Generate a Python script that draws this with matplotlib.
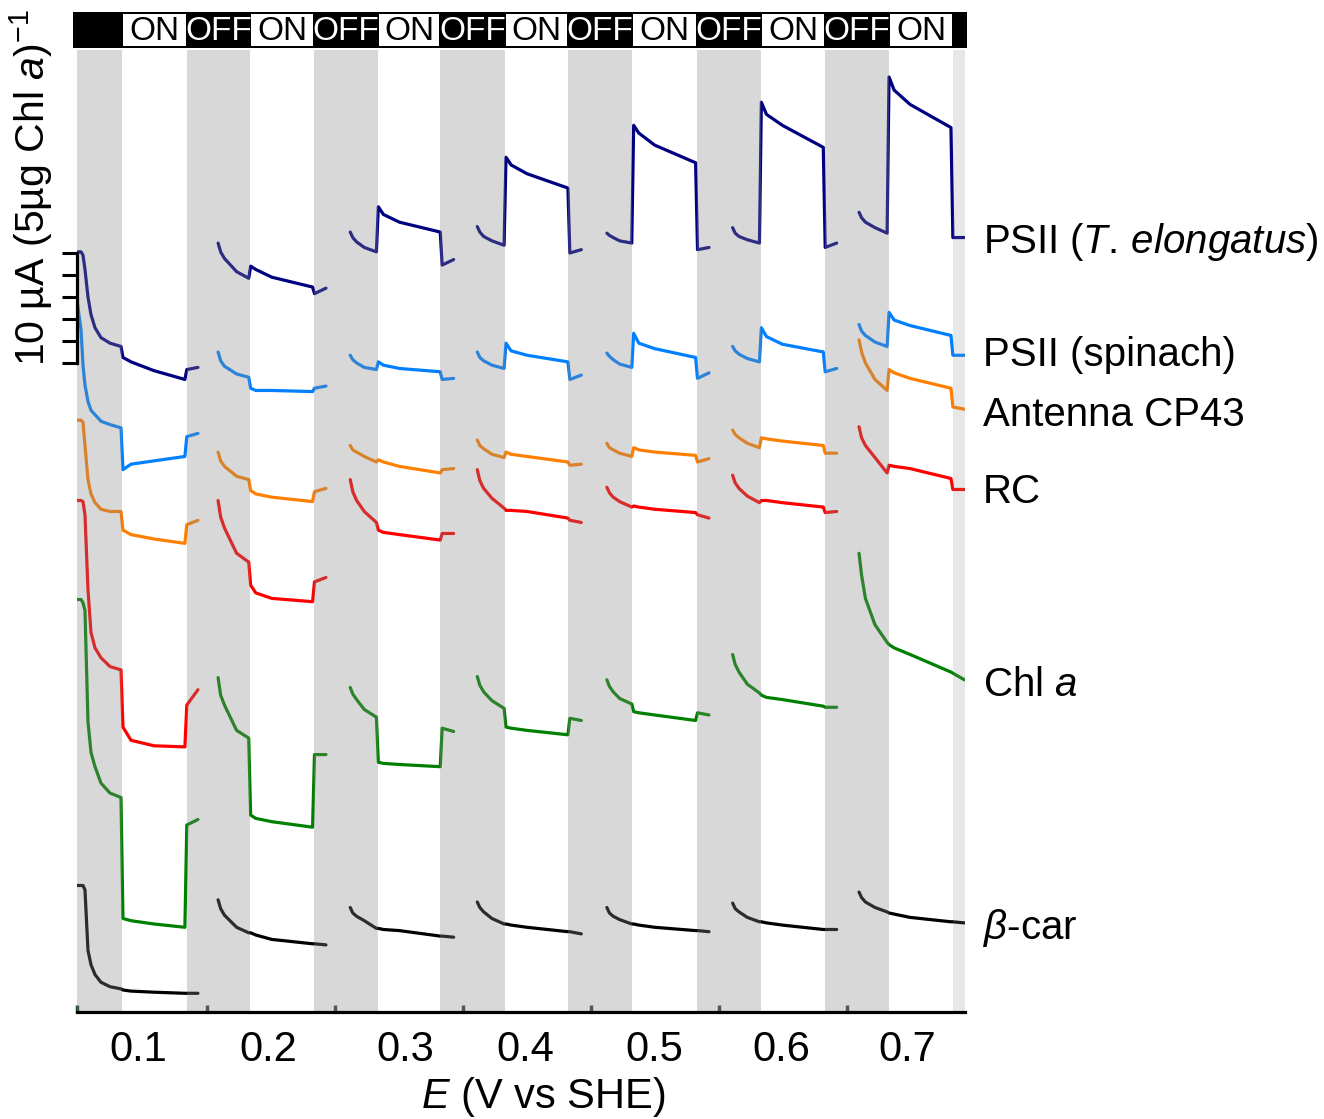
import matplotlib
matplotlib.use('Agg')
import matplotlib.pyplot as plt

plt.rcParams['font.family'] = ['Liberation Sans', 'DejaVu Sans']
plt.rcParams['mathtext.fontset'] = 'custom'
plt.rcParams['mathtext.rm'] = 'Liberation Sans'
plt.rcParams['mathtext.it'] = 'Liberation Sans:italic'
plt.rcParams['mathtext.bf'] = 'Liberation Sans:bold'

# potentials (tick labels) and where they sit on the time axis
potentials = ['0.1', '0.2', '0.3', '0.4', '0.5', '0.6', '0.7']
label_pos = [0.96, 3.0, 5.14, 7.02, 9.05, 11.04, 13.0]
seg_ticks = [0, 2.04, 4.04, 6.05, 8.05, 10.06, 12.06]

# light switched on / off (time, in units of one half period)
light_on = [0.70, 2.71, 4.71, 6.70, 8.69, 10.71, 12.72]
light_off = [1.72, 3.71, 5.69, 7.69, 9.71, 11.72, 13.72]

# sampling times inside each potential step (relative to step start)
t_first = [0.0, 0.063, 0.094, 0.125, 0.172, 0.219, 0.282, 0.376, 0.517, 0.689,
           0.72, 0.846, 1.206, 1.69, 1.72, 1.895]
t_start = [0.21, 0.28, 0.27, 0.30, 0.27, 0.25]
t_early1 = [0.25, 0.32, 0.31, 0.34, 0.31, 0.29]
t_early2 = [0.31, 0.38, 0.37, 0.40, 0.37, 0.35]
t_rest = [0.5, 0.69, 0.72, 0.8, 1.05, 1.69, 1.72, 1.9]

# currents (uA, stacked offsets as in the figure), one list per potential step
psii_te = [
    [69.1, 69.1, 68.8, 67.5, 65.0, 63.4, 62.2, 61.3, 60.8, 60.5, 59.5, 59.1, 58.3, 57.5, 58.4, 58.6],
    [69.9, 69.1, 68.5, 67.3, 66.7, 67.8, 67.5, 66.8, 65.9, 65.3, 65.8],
    [70.9, 70.4, 70.0, 69.5, 69.1, 73.2, 72.5, 71.8, 70.9, 67.9, 68.4],
    [71.4, 70.9, 70.5, 70.1, 69.7, 77.7, 77.0, 76.2, 74.9, 69.0, 69.3],
    [70.8, 70.6, 70.4, 70.1, 69.9, 80.6, 79.9, 78.8, 77.2, 69.3, 69.5],
    [71.3, 70.8, 70.5, 70.2, 69.9, 82.7, 81.6, 80.6, 78.6, 69.5, 69.9],
    [72.7, 72.2, 71.8, 71.3, 70.8, 85.0, 83.8, 82.5, 80.4, 70.4, 70.4],
]
psii_sp = [
    [64.7, 62.0, 58.8, 57.0, 55.5, 54.7, 54.3, 53.7, 53.4, 53.1, 49.3, 49.8, 50.1, 50.5, 52.3, 52.6],
    [60.0, 59.2, 58.7, 58.0, 57.7, 56.7, 56.5, 56.5, 56.4, 56.7, 56.9],
    [59.7, 59.3, 59.0, 58.6, 58.4, 59.1, 58.8, 58.5, 58.2, 57.5, 57.6],
    [60.0, 59.5, 59.2, 58.8, 58.5, 60.8, 60.1, 59.7, 59.1, 57.5, 57.9],
    [59.9, 59.6, 59.3, 58.9, 58.6, 61.7, 60.8, 60.3, 59.5, 57.6, 58.1],
    [60.5, 60.1, 59.8, 59.4, 59.1, 62.2, 61.4, 60.7, 60.0, 58.2, 58.5],
    [62.5, 61.9, 61.5, 60.9, 60.5, 63.6, 62.9, 62.4, 61.5, 59.7, 59.7],
]
cp43 = [
    [53.8, 53.8, 53.6, 51.5, 48.4, 47.1, 46.3, 45.7, 45.5, 45.5, 43.8, 43.4, 43.0, 42.6, 44.3, 44.7],
    [50.9, 50.1, 49.6, 48.7, 48.4, 47.4, 47.1, 46.8, 46.4, 47.3, 47.6],
    [51.5, 51.1, 50.9, 50.5, 50.0, 50.2, 50.0, 49.6, 49.0, 49.3, 49.4],
    [52.0, 51.5, 51.2, 50.7, 50.4, 50.9, 50.7, 50.5, 50.0, 49.7, 49.8],
    [51.7, 51.3, 51.1, 50.8, 50.5, 51.3, 51.1, 50.9, 50.6, 50.0, 50.3],
    [52.9, 52.5, 52.2, 51.7, 51.3, 52.2, 52.1, 51.9, 51.5, 50.8, 50.8],
    [61.1, 60.0, 59.0, 57.5, 56.5, 58.4, 58.1, 57.6, 56.7, 55.0, 54.8],
]
rc = [
    [46.5, 46.5, 46.4, 45.2, 38.4, 34.5, 33.1, 32.2, 31.4, 31.1, 25.9, 24.7, 24.2, 24.1, 27.9, 29.3],
    [46.5, 45.0, 44.0, 41.7, 40.9, 38.8, 38.1, 37.6, 37.3, 39.1, 39.5],
    [48.4, 47.3, 46.5, 45.5, 44.5, 43.8, 43.6, 43.4, 42.9, 43.5, 43.5],
    [49.3, 48.3, 47.6, 46.7, 45.8, 45.6, 45.6, 45.5, 44.9, 44.7, 44.5],
    [47.7, 47.2, 46.8, 46.4, 45.9, 46.0, 45.9, 45.7, 45.4, 45.2, 44.9],
    [48.8, 48.1, 47.6, 46.9, 46.3, 46.5, 46.5, 46.3, 45.9, 45.4, 45.5],
    [53.2, 52.2, 51.5, 50.4, 49.0, 49.7, 49.6, 49.4, 48.5, 47.5, 47.5],
]
chla = [
    [37.5, 37.5, 37.2, 36.5, 26.4, 23.6, 22.3, 20.8, 19.9, 19.5, 8.5, 8.3, 8.0, 7.7, 17.0, 17.5],
    [30.4, 28.8, 27.9, 25.6, 24.9, 17.9, 17.6, 17.3, 16.8, 23.4, 23.4],
    [29.5, 28.9, 28.4, 27.5, 26.8, 22.7, 22.6, 22.5, 22.3, 25.8, 25.5],
    [30.5, 29.7, 29.1, 28.3, 27.6, 25.9, 25.8, 25.6, 25.2, 26.7, 26.5],
    [30.2, 29.6, 29.1, 28.5, 28.0, 27.3, 27.2, 27.0, 26.5, 27.2, 27.0],
    [32.5, 31.6, 30.9, 29.8, 29.0, 28.8, 28.6, 28.4, 27.8, 27.7, 27.7],
    [41.7, 39.7, 37.6, 35.2, 33.6, 33.4, 33.1, 32.5, 30.9, 30.8, 30.2],
]
bcar = [
    [11.5, 11.5, 11.5, 11.1, 5.6, 4.3, 3.4, 2.7, 2.3, 2.1, 2.0, 1.9, 1.8, 1.7, 1.7, 1.7],
    [10.2, 9.4, 8.8, 7.7, 7.2, 7.2, 7.0, 6.6, 6.2, 6.2, 6.1],
    [9.5, 9.0, 8.7, 8.3, 7.6, 7.6, 7.5, 7.4, 6.9, 6.9, 6.8],
    [10.0, 9.5, 9.1, 8.5, 8.0, 8.0, 7.9, 7.7, 7.3, 7.3, 7.1],
    [9.5, 9.0, 8.7, 8.4, 8.0, 8.0, 7.9, 7.7, 7.4, 7.4, 7.3],
    [9.9, 9.4, 9.1, 8.6, 8.2, 8.2, 8.1, 7.9, 7.5, 7.5, 7.5],
    [10.9, 10.4, 10.0, 9.5, 9.1, 9.0, 8.9, 8.6, 8.2, 8.2, 8.1],
]

traces = [psii_te, psii_sp, cp43, rc, chla, bcar]
colors = ['#000080', '#0080ff', '#ff8000', '#ff0000', '#008000', '#000000']
names = [r'PSII ($\mathit{T.}\,\mathit{elongatus}$)', 'PSII (spinach)', 'Antenna CP43',
         'RC', r'Chl $\mathit{a}$', r'$\mathit{\beta}$-car']
name_y = [70.0, 59.7, 54.3, 47.3, 29.7, 7.6]

scale_ticks = [59, 61, 63, 65, 67, 69]

fig = plt.figure(figsize=(13.24, 11.19), dpi=100)
ax = fig.add_axes([77 / 1324, 1 - 1012 / 1119, 888 / 1324, 962 / 1119])
xmax = 13.91
ax.set_xlim(0, xmax)
ax.set_ylim(0, 87.45)

for vals, col in zip(traces, colors):
    for k, seg in enumerate(vals):
        if k == 0:
            ts = t_first
        else:
            ts = [t_start[k - 1], t_early1[k - 1], t_early2[k - 1]] + t_rest
        ax.plot([2 * k + t for t in ts], seg, color=col, lw=2.3,
                solid_joinstyle='round', solid_capstyle='round', zorder=2)

# dark periods shaded on top of the traces
dark_from = [0] + light_off[:-1]
for a, b in zip(dark_from, light_on):
    ax.axvspan(a, b, color='#8a8a8a', alpha=0.325, lw=0, zorder=3)
ax.axvspan(light_off[-1], xmax, color='#8a8a8a', alpha=0.2, lw=0, zorder=3)

for n, y in zip(names, name_y):
    ax.text(14.19, y, n, fontsize=29, va='center', ha='left', clip_on=False)

# axes: scale bar on the left, potentials below
ax.spines['top'].set_visible(False)
ax.spines['right'].set_visible(False)
ax.spines['left'].set_bounds(scale_ticks[0], scale_ticks[-1])
ax.spines['left'].set_linewidth(2.3)
ax.spines['bottom'].set_linewidth(2.3)
ax.spines['left'].set_zorder(4)
ax.spines['bottom'].set_zorder(4)
ax.set_yticks(scale_ticks)
ax.set_yticklabels([])
ax.tick_params(axis='y', direction='out', length=11, width=2.2)
ax.set_xticks(label_pos)
ax.set_xticklabels(potentials, fontsize=30)
ax.set_xticks(seg_ticks, minor=True)
ax.tick_params(axis='x', which='major', length=0, pad=13)
ax.tick_params(axis='x', which='minor', direction='in', length=5, width=2.5, color='#2a4a2a')
ax.set_xlabel(r'$\mathit{E}$ (V vs SHE)', fontsize=30)
ax.xaxis.set_label_coords(0.525, -0.066)

fig.text(45 / 1324, 1 - 366 / 1119, r'10 µA (5µg Chl $\mathit{a}$)$^{-1}$', fontsize=29.5,
         rotation=90, rotation_mode='anchor', ha='left', va='baseline')

# light on/off bar
bar = fig.add_axes([73 / 1324, 1 - 48 / 1119, 894 / 1324, 36 / 1119])
bar.set_xlim(-0.063, 13.94)
bar.set_ylim(0, 1)
bar.set_facecolor('black')
for s in bar.spines.values():
    s.set_visible(False)
bar.set_xticks([])
bar.set_yticks([])
for a, b in zip(light_on, light_off):
    bar.axvspan(a + 0.02, b - 0.02, ymin=0.05, ymax=0.95, color='white', lw=0)
    bar.text((a + b) / 2, 0.46, 'ON', ha='center', va='center', fontsize=24, color='black')
for a, b in zip(light_off[:-1], light_on[1:]):
    bar.text((a + b) / 2, 0.46, 'OFF', ha='center', va='center', fontsize=24, color='white')

fig.savefig('out.png', dpi=100)
